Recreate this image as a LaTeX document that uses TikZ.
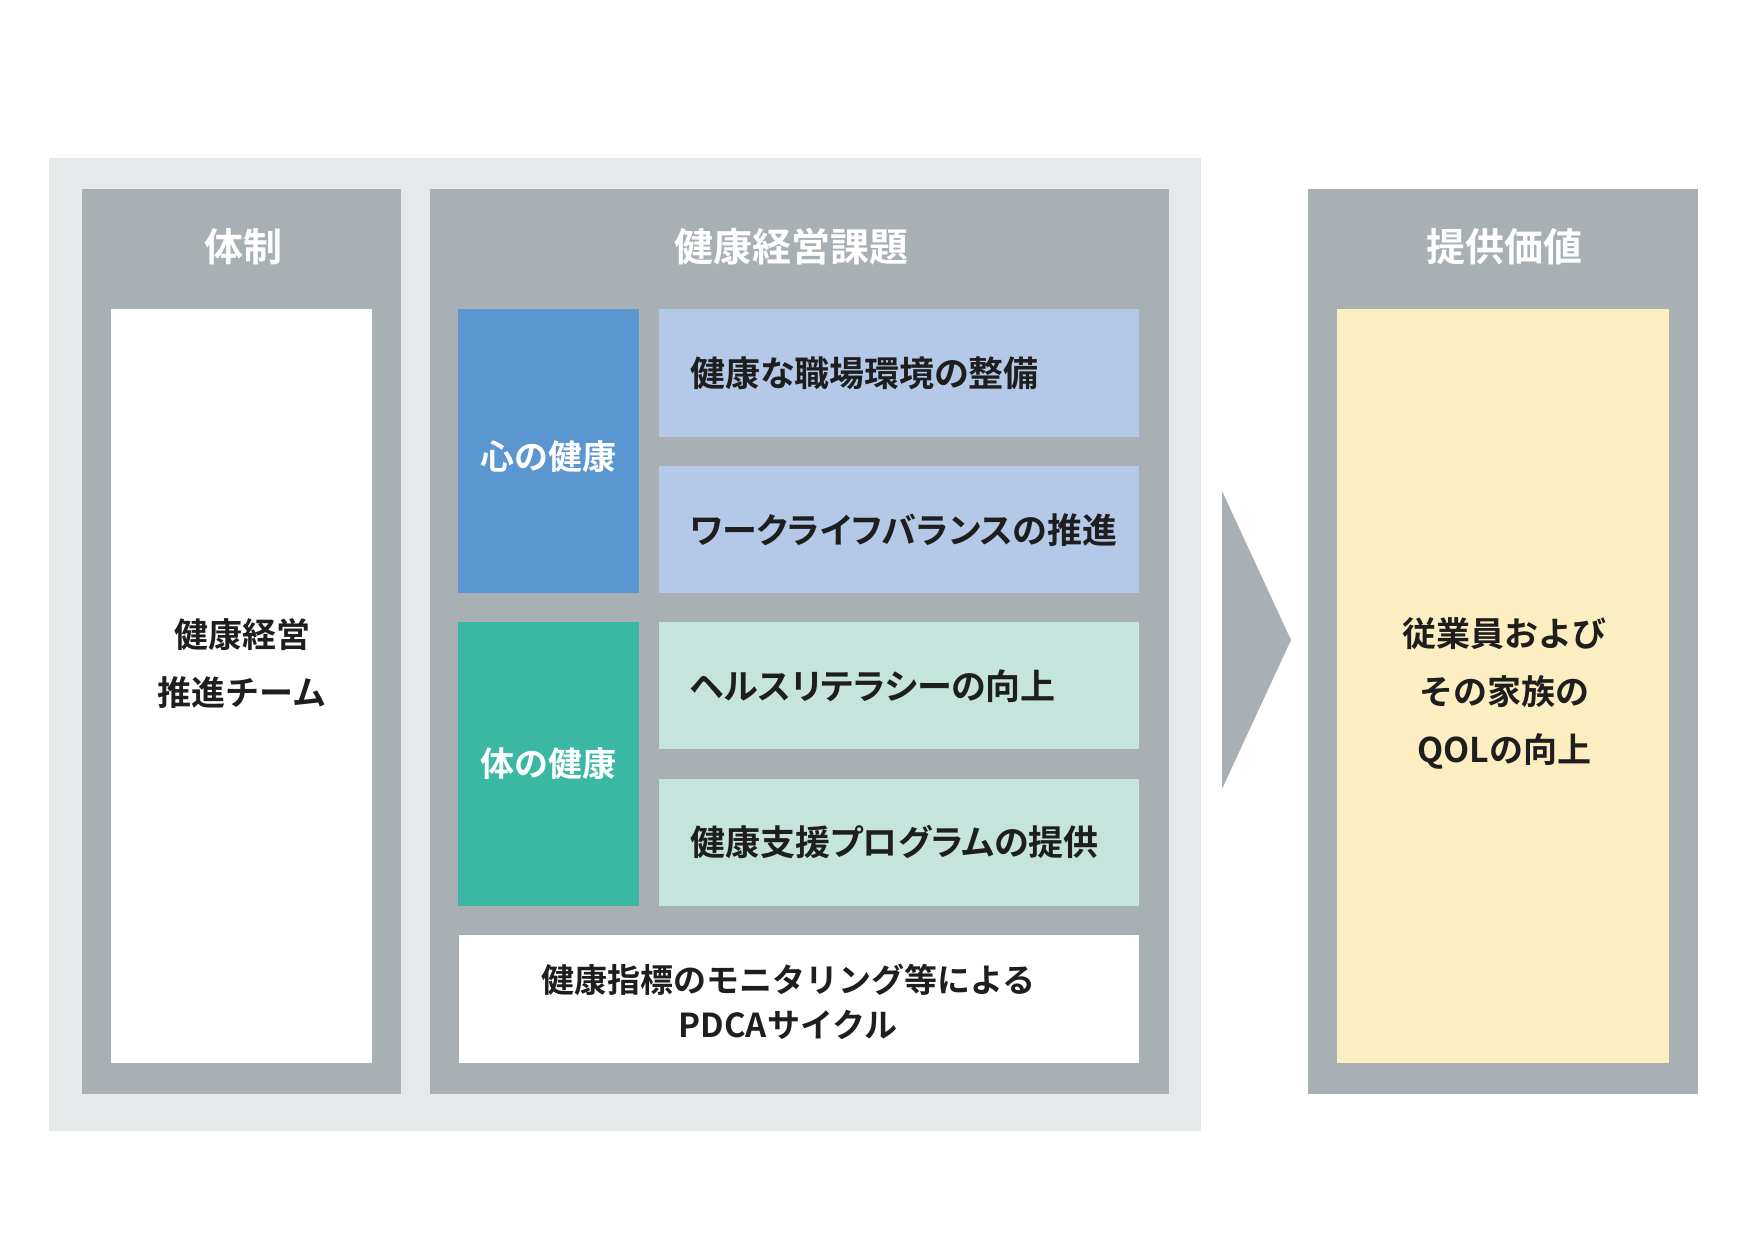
\documentclass[tikz,border=0pt]{standalone}
\usepackage{fontspec}
\newfontfamily\jpbold{Noto Sans CJK JP Bold}
\newfontfamily\jpprop{Noto Sans CJK JP Bold}[RawFeature=+palt]
\usepackage{tikz}

\definecolor{outerbg}{HTML}{E6E9EA}
\definecolor{panelgrey}{HTML}{A9B0B3}
\definecolor{kokoro}{HTML}{5A96CF}
\definecolor{kokorolight}{HTML}{B4C9E8}
\definecolor{karada}{HTML}{3AB8A3}
\definecolor{karadalight}{HTML}{C5E4DC}
\definecolor{valuecream}{HTML}{FCEEC0}
\definecolor{inkblack}{HTML}{1E1E1E}

\tikzset{
  headtext/.style={font=\jpbold\fontsize{39}{47}\selectfont, text=white, inner sep=0pt},
  bodytext/.style={font=\jpbold\fontsize{34}{58}\selectfont, text=inkblack, inner sep=0pt, align=center},
  itemtext/.style={font=\jpprop\fontsize{35}{40}\selectfont, text=inkblack, inner sep=0pt, anchor=west},
  tagtext/.style={font=\jpbold\fontsize{34}{40}\selectfont, text=white, inner sep=0pt}
}

\begin{document}
\begin{tikzpicture}[x=1pt, y=-1pt]
            \useasboundingbox (0,0) rectangle (1754,1241);

            % panels
            \fill[outerbg] (49,158) rectangle (1201,1131);
            \fill[panelgrey] (82,189) rectangle (401,1094);
            \fill[white] (111,309) rectangle (372,1063);
            \fill[panelgrey] (430,189) rectangle (1169,1094);
            \fill[panelgrey] (1308,189) rectangle (1698,1094);
            \fill[valuecream] (1337,309) rectangle (1669,1063);

            % issues
            \fill[kokoro] (458,309) rectangle (639,593);
            \fill[kokorolight] (659,309) rectangle (1139,437);
            \fill[kokorolight] (659,466) rectangle (1139,593);
            \fill[karada] (458,622) rectangle (639,906);
            \fill[karadalight] (659,622) rectangle (1139,749);
            \fill[karadalight] (659,779) rectangle (1139,906);
            \fill[white] (459,935) rectangle (1139,1063);

            % arrow
            \fill[panelgrey] (1222,491) -- (1291,640) -- (1222,789) -- cycle;

            \node[headtext] (taisei) at (243,247) {体制};
            \node[headtext] (kadai) at (791,247) {健康経営課題};
            \node[headtext] (kachi) at (1504,247) {提供価値};

            \node[bodytext] (team) at (242,664) {健康経営\\推進チーム};
            \node[tagtext] (mind) at (548,457) {心の健康};
            \node[tagtext] (body) at (548,764) {体の健康};
            \node[itemtext] (env) at (690,373) {健康な職場環境の整備};
            \node[itemtext] (wlb) at (690,530) {ワークライフバランスの推進};
            \node[itemtext] (lit) at (690,686) {ヘルスリテラシーの向上};
            \node[itemtext] (prog) at (690,842) {健康支援プログラムの提供};
            \node[bodytext, font=\jpbold\fontsize{33}{45}\selectfont] (pdca) at (788,1002) {健康指標のモニタリング等による\\PDCAサイクル};
            \node[bodytext] (qol) at (1504,693) {従業員および\\その家族の\\QOLの向上};

\end{tikzpicture}
\end{document}
